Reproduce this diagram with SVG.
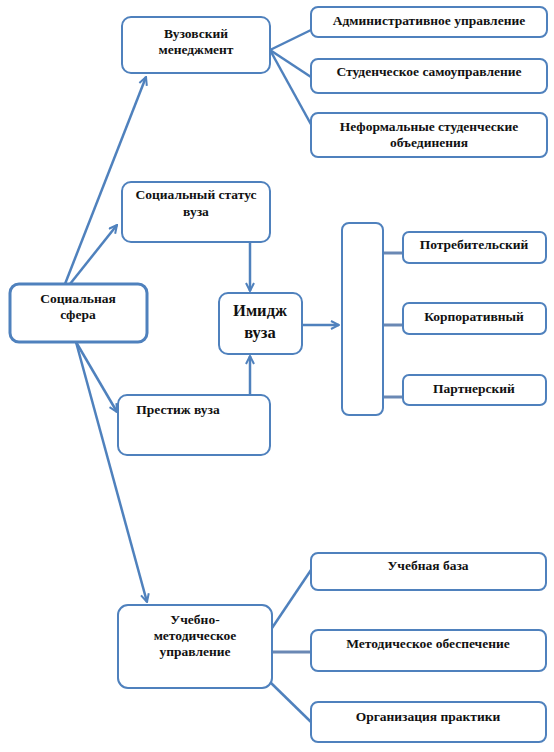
<svg xmlns="http://www.w3.org/2000/svg" width="554" height="752" viewBox="0 0 554 752">
<defs>
<style>
.box{fill:#fff;stroke:#4f81bd;stroke-width:2}
.main{fill:#fff;stroke:#4f81bd;stroke-width:3}
text{font-family:'Liberation Serif','Times New Roman',serif;font-weight:bold;font-size:13.5px;fill:#111;text-anchor:middle}
.big{font-size:16.5px}
.c{stroke:#4f81bd;stroke-width:2.5;fill:none}
.g{stroke:#6a88b4;stroke-width:3;fill:none}
</style>
<marker id="ah" viewBox="0 0 10 10" refX="9" refY="5" markerWidth="4" markerHeight="4" orient="auto" markerUnits="strokeWidth">
<path d="M1,1 L9,5 L1,9" fill="none" stroke="#4f81bd" stroke-width="2"/>
</marker>
</defs>
<rect width="554" height="752" fill="#fff"/>
<g id="connectors">
<line class="c" x1="65" y1="284" x2="146" y2="77" marker-end="url(#ah)"/>
<line class="c" x1="70" y1="284" x2="117" y2="225" marker-end="url(#ah)"/>
<line class="c" x1="76" y1="342" x2="117" y2="412" marker-end="url(#ah)"/>
<line class="c" x1="76" y1="342" x2="147" y2="602" marker-end="url(#ah)"/>
<line class="c" x1="250" y1="242" x2="250" y2="291" marker-end="url(#ah)"/>
<line class="c" x1="250" y1="395" x2="250" y2="356" marker-end="url(#ah)"/>
<line class="c" x1="302" y1="325" x2="339" y2="325" marker-end="url(#ah)"/>
<line class="c" x1="270" y1="50" x2="311" y2="30"/>
<line class="c" x1="270" y1="50" x2="311" y2="77"/>
<line class="c" x1="270" y1="50" x2="313" y2="128"/>
<line class="g" x1="383" y1="253" x2="403" y2="253"/>
<line class="g" x1="383" y1="325" x2="403" y2="325"/>
<line class="g" x1="383" y1="397" x2="403" y2="397"/>
<line class="c" x1="272" y1="628" x2="311" y2="570"/>
<line class="g" x1="272" y1="652" x2="311" y2="652"/>
<line class="c" x1="270" y1="682" x2="311" y2="722"/>
</g>
<g id="n-social">
<rect class="main" x="10" y="284" width="137" height="58" rx="9"/>
<text x="78" y="303">Социальная</text>
<text x="78" y="319">сфера</text>
</g>
<g id="n-management">
<rect class="box" x="122" y="17" width="148" height="56" rx="9"/>
<text x="196" y="38">Вузовский</text>
<text x="196" y="54">менеджмент</text>
</g>
<g id="n-admin">
<rect class="box" x="311" y="7" width="236" height="30" rx="7"/>
<text x="429" y="25">Административное управление</text>
</g>
<g id="n-selfgov">
<rect class="box" x="311" y="59" width="236" height="34" rx="7"/>
<text x="429" y="76">Студенческое самоуправление</text>
</g>
<g id="n-informal">
<rect class="box" x="311" y="113" width="236" height="44" rx="7"/>
<text x="429" y="131">Неформальные студенческие</text>
<text x="429" y="147">объединения</text>
</g>
<g id="n-status">
<rect class="box" x="122" y="182" width="148" height="60" rx="9"/>
<text x="196" y="199">Социальный статус</text>
<text x="196" y="216">вуза</text>
</g>
<g id="n-image">
<rect class="box" x="219" y="293" width="83" height="61" rx="9"/>
<text class="big" x="260" y="316">Имидж</text>
<text class="big" x="260" y="338">вуза</text>
</g>
<g id="n-prestige">
<rect class="box" x="118" y="395" width="152" height="60" rx="9"/>
<text x="178" y="414">Престиж вуза</text>
</g>
<g id="n-bracket">
<rect class="box" x="342" y="223" width="41" height="192" rx="7"/>
</g>
<g id="n-consumer">
<rect class="box" x="403" y="232" width="143" height="31" rx="6"/>
<text x="474" y="249">Потребительский</text>
</g>
<g id="n-corporate">
<rect class="box" x="403" y="303" width="143" height="31" rx="6"/>
<text x="474" y="321">Корпоративный</text>
</g>
<g id="n-partner">
<rect class="box" x="403" y="375" width="143" height="30" rx="6"/>
<text x="474" y="393">Партнерский</text>
</g>
<g id="n-edu">
<rect class="box" x="118" y="605" width="154" height="83" rx="10"/>
<text x="195" y="624">Учебно-</text>
<text x="195" y="640">методическое</text>
<text x="195" y="656">управление</text>
</g>
<g id="n-base">
<rect class="box" x="311" y="553" width="235" height="37" rx="7"/>
<text x="428" y="570">Учебная база</text>
</g>
<g id="n-method">
<rect class="box" x="311" y="630" width="235" height="41" rx="7"/>
<text x="428" y="648">Методическое обеспечение</text>
</g>
<g id="n-practice">
<rect class="box" x="311" y="702" width="235" height="40" rx="7"/>
<text x="428" y="721">Организация практики</text>
</g>
</svg>
